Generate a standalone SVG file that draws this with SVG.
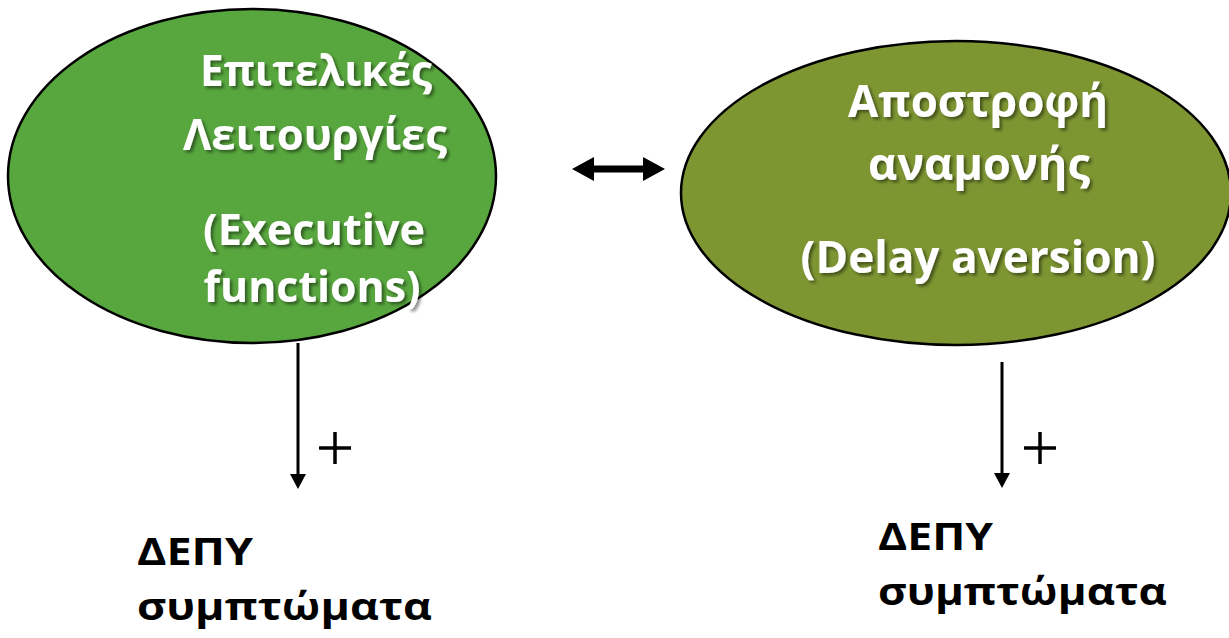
<svg xmlns="http://www.w3.org/2000/svg" width="1229" height="638" viewBox="0 0 1229 638">
<defs>
<style>
.node-fill{stroke:#000;stroke-width:2.5}
.lbl{font-family:"Open Sans","Noto Sans","DejaVu Sans",sans-serif;font-weight:bold;fill:#fff;text-anchor:middle;filter:url(#sh)}
.blk{font-family:"Open Sans","Noto Sans","DejaVu Sans",sans-serif;font-weight:bold;fill:#000;font-size:37px}
.plus{stroke:#000;stroke-width:3.5;fill:none}
.ln{stroke:#000;stroke-width:3}
</style>
<filter id="sh" x="-10%" y="-20%" width="120%" height="150%">
<feDropShadow dx="2.5" dy="2.5" stdDeviation="1.5" flood-color="#000" flood-opacity="0.45"/>
</filter>
</defs>
<rect width="1229" height="638" fill="#fff"/>
<g id="connectors">
<path d="M572,169 L594,157 L594,165.5 L643,165.5 L643,157 L665,169 L643,181 L643,172.5 L594,172.5 L594,181 Z" fill="#000"/>
<line class="ln" x1="298" y1="343" x2="298" y2="476"/>
<path d="M290,474 L306,474 L298,489 Z" fill="#000"/>
<line class="ln" x1="1002" y1="362" x2="1002" y2="475"/>
<path d="M994,473 L1010,473 L1002,488 Z" fill="#000"/>
<path class="plus" d="M319,448 H351 M335,432 V464"/>
<path class="plus" d="M1024,448 H1056 M1040,432 V464"/>
</g>
<g id="node-executive">
<ellipse class="node-fill" cx="252" cy="176" rx="244" ry="167" fill="#58A73E"/>
<text class="lbl" x="316" y="86" font-size="43" textLength="232" lengthAdjust="spacingAndGlyphs">Επιτελικές</text>
<text class="lbl" x="315" y="150" font-size="43" textLength="264" lengthAdjust="spacingAndGlyphs">Λειτουργίες</text>
<text class="lbl" x="314" y="245" font-size="43" textLength="222" lengthAdjust="spacingAndGlyphs">(Executive</text>
<text class="lbl" x="312" y="302" font-size="43" textLength="217" lengthAdjust="spacingAndGlyphs">functions)</text>
</g>
<g id="node-delay">
<ellipse class="node-fill" cx="956" cy="193" rx="275" ry="152" fill="#7D9632"/>
<text class="lbl" x="978" y="117" font-size="44" textLength="260" lengthAdjust="spacingAndGlyphs">Αποστροφή</text>
<text class="lbl" x="979" y="180" font-size="44" textLength="222" lengthAdjust="spacingAndGlyphs">αναμονής</text>
<text class="lbl" x="978" y="273" font-size="44" textLength="355" lengthAdjust="spacingAndGlyphs">(Delay aversion)</text>
</g>
<g id="node-adhd-left">
<text class="blk" x="137" y="565" textLength="116" lengthAdjust="spacingAndGlyphs">ΔΕΠΥ</text>
<text class="blk" x="137" y="620" textLength="295" lengthAdjust="spacingAndGlyphs">συμπτώματα</text>
</g>
<g id="node-adhd-right">
<text class="blk" x="878" y="550" textLength="115" lengthAdjust="spacingAndGlyphs">ΔΕΠΥ</text>
<text class="blk" x="878" y="605" textLength="289" lengthAdjust="spacingAndGlyphs">συμπτώματα</text>
</g>
</svg>
